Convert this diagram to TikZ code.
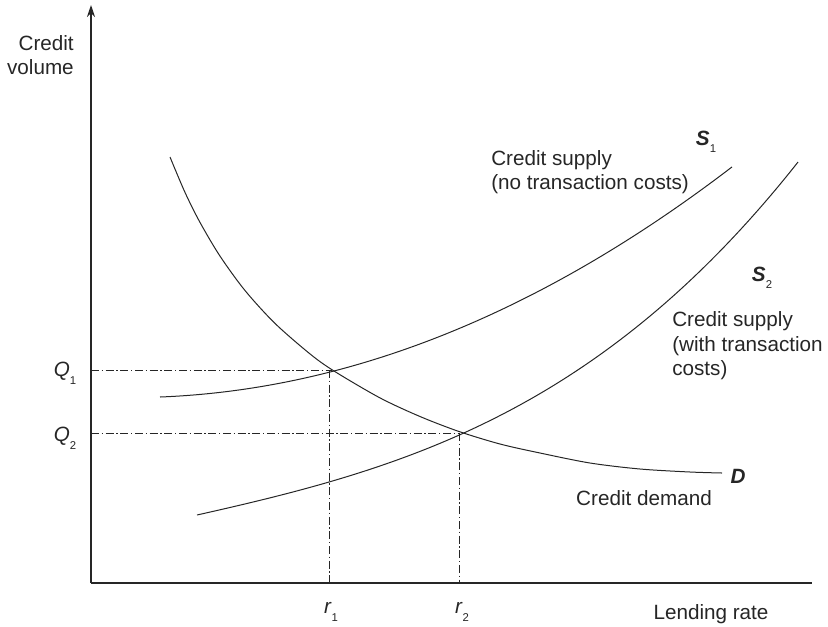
\documentclass[tikz,border=0pt]{standalone}
\usepackage{fontspec}
\setmainfont{Liberation Sans}
\usetikzlibrary{arrows.meta}
\begin{document}
\begin{tikzpicture}[x=0.75pt,y=-0.75pt,
  axis/.style={line width=0.9pt,draw=black!85},
  curve/.style={line width=0.75pt,draw=black!85},
  guide/.style={line width=0.6pt,draw=black!85,dash pattern=on 6pt off 2pt on 1pt off 2pt},
  lbl/.style={font=\fontsize{15.5pt}{18.4pt}\selectfont,inner sep=0pt,text=black!85},
  sym/.style={font=\fontsize{15.5pt}{18.4pt}\selectfont,inner sep=0pt,text=black!85}]
\useasboundingbox (0,0) rectangle (828,626);
% axes
\coordinate (O) at (91,583);
\coordinate (ytop) at (91,5);
\coordinate (xend) at (812,583);
\draw[axis,-{Stealth[length=9pt,width=6pt]}] (O) -- (ytop);
\draw[axis] (O) -- (xend);
% equilibrium points
\coordinate (E1) at (332,370);
\coordinate (E2) at (459,433);
\coordinate (Q1a) at (91,370);
\coordinate (Q2a) at (91,433);
\coordinate (r1a) at (329,583);
\coordinate (r2a) at (459,583);
\coordinate (E1v) at (329,370);
% guides
\draw[guide] (Q1a) -- (E1);
\draw[guide] (E1v) -- (r1a);
\draw[guide] (Q2a) -- (E2);
\draw[guide] (E2) -- (r2a);
% curves
\draw[curve] plot[domain=160:732,samples=90,smooth] (\x,{397-3.9*((\x-160)/100)-6.35*((\x-160)/100)^2});
\draw[curve] plot[domain=197:798,samples=90,smooth] (\x,{515-22.46*((\x-197)/100)-0.764*((\x-197)/100)^2-0.877*((\x-197)/100)^3});
\draw[curve] plot[smooth,tension=0.5] coordinates {(170,157) (185,192.4) (200,222.4) (220,256.1) (245,290.5) (275,323.4) (310,353.9) (334,371) (380,397.9) (420,416.5) (459,431.5) (500,444) (540,453) (590,463) (640,469) (690,472) (722,473)};
% labels
\node[lbl,anchor=east,align=right] (yl) at (74,55) {Credit\\volume};
\node[lbl,anchor=west,align=left] (s1t) at (491,172) {Credit supply\\(no transaction costs)};
\node[lbl,anchor=west,align=left] (s2t) at (672,346) {Credit supply\\(with transaction\\costs)};
\node[lbl] (dt) at (644,498) {Credit demand};
\node[lbl] (xl) at (711,614) {Lending rate};
\node[sym] (S1) at (706,142) {\textbf{\textit{S}}\raisebox{-0.6ex}{\fontsize{8.5pt}{10pt}\selectfont 1}};
\node[sym] (S2) at (762,278) {\textbf{\textit{S}}\raisebox{-0.6ex}{\fontsize{8.5pt}{10pt}\selectfont 2}};
\node[sym] (D) at (738,476) {\textbf{\textit{D}}};
\node[sym] (Q1) at (65,373) {\textit{Q}\raisebox{-0.7ex}{\fontsize{8.5pt}{10pt}\selectfont 1}};
\node[sym] (Q2) at (65,438) {\textit{Q}\raisebox{-0.7ex}{\fontsize{8.5pt}{10pt}\selectfont 2}};
\node[sym] (r1) at (331,612) {\textit{r}\raisebox{-0.7ex}{\fontsize{8.5pt}{10pt}\selectfont 1}};
\node[sym] (r2) at (462,612) {\textit{r}\raisebox{-0.7ex}{\fontsize{8.5pt}{10pt}\selectfont 2}};
\end{tikzpicture}
\end{document}
